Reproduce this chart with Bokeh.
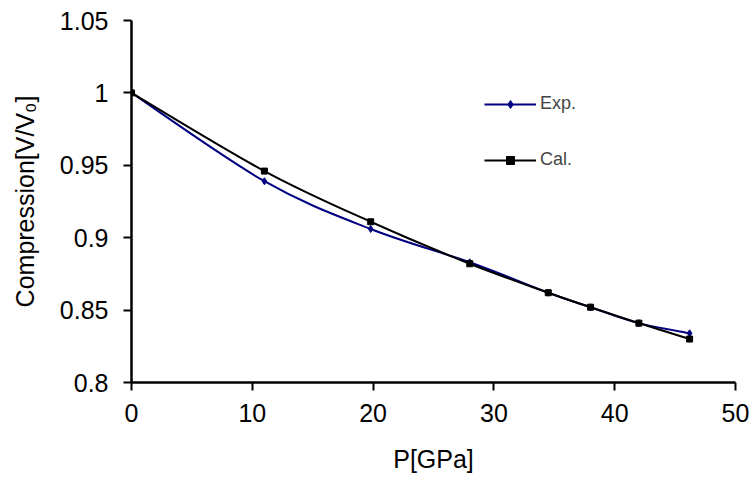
from bokeh.plotting import figure
from bokeh.models import Legend, LegendItem, ColumnDataSource, FixedTicker, Range1d
from bokeh.embed import file_html
from bokeh.resources import INLINE

pressure_exp = [0, 11, 19.8, 28, 34.5, 38, 42, 46.2]
compression_exp = [1.0, 0.939, 0.906, 0.883, 0.862, 0.852, 0.841, 0.834]
pressure_cal = [0, 11, 19.8, 28, 34.5, 38, 42, 46.2]
compression_cal = [1.0, 0.946, 0.911, 0.882, 0.862, 0.852, 0.841, 0.830]

x_ticks = [0, 10, 20, 30, 40, 50]
y_ticks = [0.8, 0.85, 0.9, 0.95, 1.0, 1.05]
y_tick_labels = ["0.8", "0.85", "0.9", "0.95", "1", "1.05"]

FONT = "Liberation Sans"


def smooth_segments(xs, ys):
    # Excel-style smoothed line: Catmull-Rom converted to cubic Bezier segments
    n = len(xs)
    d = dict(x0=[], y0=[], x1=[], y1=[], cx0=[], cy0=[], cx1=[], cy1=[])
    for i in range(n - 1):
        p0 = (xs[i - 1], ys[i - 1]) if i > 0 else (xs[i], ys[i])
        p1 = (xs[i], ys[i])
        p2 = (xs[i + 1], ys[i + 1])
        p3 = (xs[i + 2], ys[i + 2]) if i + 2 < n else (xs[i + 1], ys[i + 1])
        d["x0"].append(p1[0]); d["y0"].append(p1[1])
        d["x1"].append(p2[0]); d["y1"].append(p2[1])
        d["cx0"].append(p1[0] + (p2[0] - p0[0]) / 6)
        d["cy0"].append(p1[1] + (p2[1] - p0[1]) / 6)
        d["cx1"].append(p2[0] - (p3[0] - p1[0]) / 6)
        d["cy1"].append(p2[1] - (p3[1] - p1[1]) / 6)
    return ColumnDataSource(d)


p = figure(width=753, height=479, output_backend="svg", toolbar_location=None,
           x_range=Range1d(0, 50), y_range=Range1d(0.8, 1.05),
           min_border_left=131, min_border_right=18, min_border_top=20, min_border_bottom=97)
p.outline_line_color = None
p.grid.visible = False
p.background_fill_color = "white"
p.border_fill_color = "white"

exp_color = "#000080"
cal_color = "#000000"

b_exp = p.bezier(x0="x0", y0="y0", x1="x1", y1="y1", cx0="cx0", cy0="cy0", cx1="cx1", cy1="cy1",
                 source=smooth_segments(pressure_exp, compression_exp), line_color=exp_color, line_width=2)
s_exp = p.scatter(pressure_exp, compression_exp, marker="diamond", size=7,
                  fill_color=exp_color, line_color=exp_color)
b_cal = p.bezier(x0="x0", y0="y0", x1="x1", y1="y1", cx0="cx0", cy0="cy0", cx1="cx1", cy1="cy1",
                 source=smooth_segments(pressure_cal, compression_cal), line_color=cal_color, line_width=2)
s_cal = p.scatter(pressure_cal, compression_cal, marker="square", size=6,
                  fill_color=cal_color, line_color=cal_color)

for ax in (p.xaxis[0], p.yaxis[0]):
    ax.axis_line_color = "black"
    ax.axis_line_width = 2.5
    ax.major_tick_line_color = "black"
    ax.major_tick_line_width = 2
    ax.major_tick_in = 0
    ax.major_tick_out = 8
    ax.minor_tick_line_color = None
    ax.major_label_text_font = FONT
    ax.major_label_text_font_size = "25px"
    ax.major_label_text_color = "black"
    ax.axis_label_text_font = FONT
    ax.axis_label_text_font_size = "25px"
    ax.axis_label_text_font_style = "normal"
    ax.axis_label_text_color = "black"

p.xaxis.ticker = FixedTicker(ticks=x_ticks)
p.yaxis.ticker = FixedTicker(ticks=y_ticks)
p.yaxis.major_label_overrides = {t: l for t, l in zip(y_ticks, y_tick_labels)}
p.xaxis.major_label_standoff = 13
p.yaxis.major_label_standoff = 15
p.xaxis.axis_label = "P[GPa]"
p.yaxis.axis_label = "Compression[V/V\u2080]"
p.xaxis.axis_label_standoff = 20
p.yaxis.axis_label_standoff = 18

legend = Legend(items=[LegendItem(label="Exp.", renderers=[b_exp, s_exp]),
                       LegendItem(label="Cal.", renderers=[b_cal, s_cal])],
                location=(353, 212), orientation="vertical",
                border_line_color=None, background_fill_alpha=0,
                padding=0, margin=0, spacing=35,
                glyph_width=52, glyph_height=20, label_height=20,
                label_standoff=4,
                label_text_font=FONT, label_text_font_size="18px")
p.add_layout(legend)

open("out.html", "w").write(file_html(p, INLINE))
